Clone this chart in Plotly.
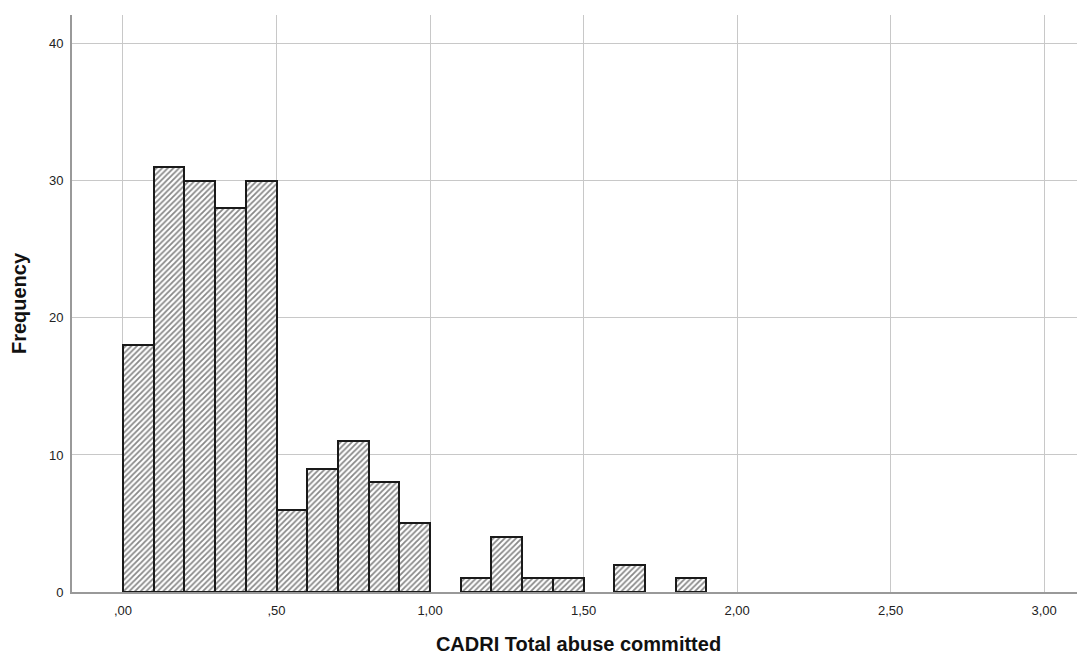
import plotly.graph_objects as go

bin_start = [0.0, 0.1, 0.2, 0.3, 0.4, 0.5, 0.6, 0.7, 0.8, 0.9,
             1.0, 1.1, 1.2, 1.3, 1.4, 1.5, 1.6, 1.7, 1.8]
counts = [18, 31, 30, 28, 30, 6, 9, 11, 8, 5,
          0, 1, 4, 1, 1, 0, 2, 0, 1]
bin_width = 0.1
x_tickvals = [0, 0.5, 1.0, 1.5, 2.0, 2.5, 3.0]
x_ticktext = [",00", ",50", "1,00", "1,50", "2,00", "2,50", "3,00"]
y_tickvals = [0, 10, 20, 30, 40]

xs = [b + bin_width / 2 for b, c in zip(bin_start, counts) if c > 0]
ys = [c for c in counts if c > 0]

fig = go.Figure(go.Bar(
    x=xs, y=ys, width=bin_width,
    marker=dict(
        color="white",
        line=dict(color="#1a1a1a", width=2),
        pattern=dict(shape="/", size=4, solidity=0.45, fgcolor="#111111", bgcolor="white"),
    ),
    hoverinfo="skip",
))

fig.update_layout(
    width=1077, height=647,
    margin=dict(l=64, r=0, t=7, b=63),
    plot_bgcolor="white", paper_bgcolor="white",
    showlegend=False,
    font=dict(family="Liberation Sans, Arial, sans-serif", size=13, color="#222222"),
    bargap=0,
)
fig.update_xaxes(
    range=[-0.166, 3.133],
    tickvals=x_tickvals, ticktext=x_ticktext,
    showgrid=True, gridcolor="#c8c8c8", gridwidth=1,
    showline=True, linecolor="#999999", linewidth=2,
    zeroline=False, ticks="", ticklen=0, ticklabelstandoff=5,
    title=dict(text="<b>CADRI Total abuse committed</b>", font=dict(size=20, color="#111111"), standoff=20),
    tickfont=dict(size=13, color="#222222"),
)
fig.update_yaxes(
    range=[0, 42.1],
    tickvals=y_tickvals,
    showgrid=True, gridcolor="#c8c8c8", gridwidth=1,
    showline=True, linecolor="#999999", linewidth=2,
    zeroline=False, ticks="", ticklen=0, ticklabelstandoff=4,
    title=dict(text="<b>Frequency</b>", font=dict(size=20, color="#111111"), standoff=20),
    tickfont=dict(size=13, color="#222222"),
)

fig.write_html("out.html")
